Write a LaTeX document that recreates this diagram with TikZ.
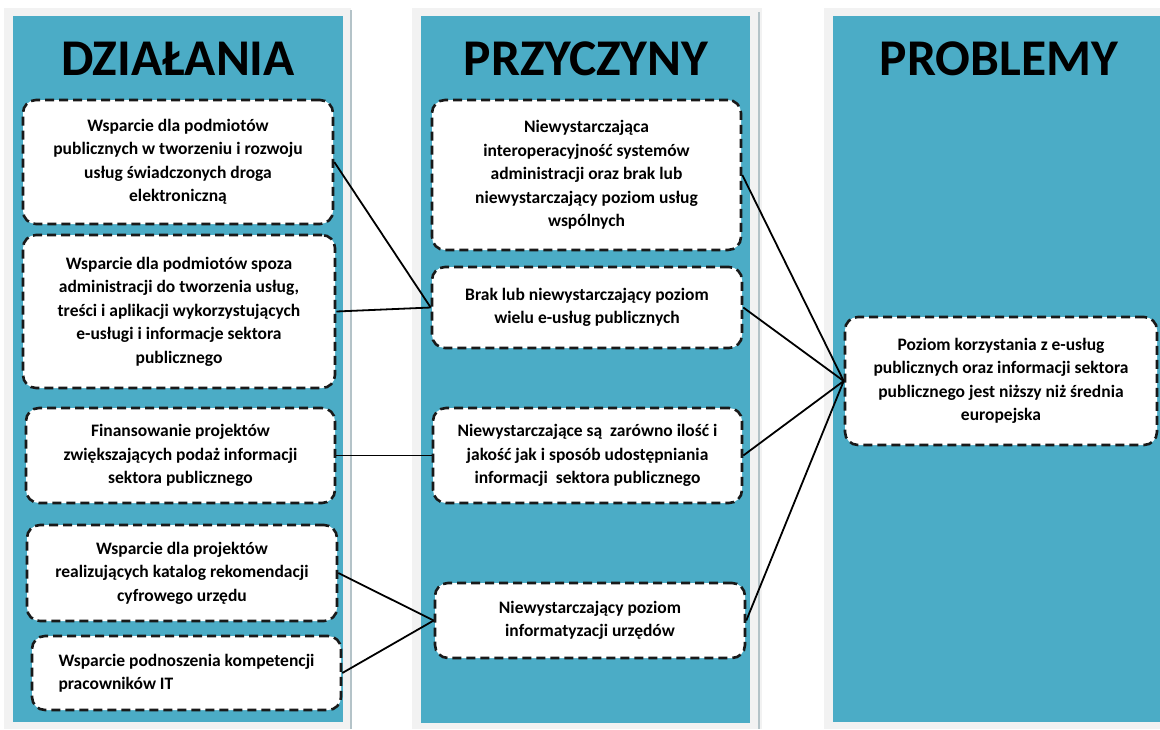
\documentclass[tikz,border=0pt]{standalone}
\usepackage{fontspec}
\setmainfont{Carlito}
\definecolor{colteal}{HTML}{4BACC6}
\definecolor{colgray}{HTML}{F2F2F2}
\definecolor{colshadow}{HTML}{B4C3C8}
\tikzset{
  box/.style={draw=black!90, fill=white, line width=2.6pt, dash pattern=on 9pt off 5pt,
    rounded corners=13pt, font=\bfseries\fontsize{17.5}{23.5}\selectfont, align=center, inner sep=0pt},
  link/.style={draw=black, line width=1.8pt},
  head/.style={font=\bfseries\fontsize{51.5}{60}\selectfont, anchor=base, inner sep=0pt}
}
\begin{document}
\begin{tikzpicture}[x=1pt,y=-1pt]
\useasboundingbox (0,0) rectangle (1160,729);
% columns
\fill[colgray] (4,8) rectangle (351,729);
\fill[colteal] (13,16) rectangle (343,722);
\draw[colshadow, line width=1.5pt] (351,10) -- (351,729);
\fill[colgray] (412,8) rectangle (762,729);
\fill[colteal] (421,16) rectangle (750,723);
\draw[colshadow, line width=2pt] (759,12) -- (759,729);
\fill[colgray] (824,8) rectangle (1160,729);
\fill[colteal] (833,16) rectangle (1160,722);
% headers
\node[head] (h1) at (178,75) {DZIAŁANIA};
\node[head] (h2) at (586,75) {PRZYCZYNY};
\node[head] (h3) at (999,75) {PROBLEMY};
% left boxes
\node[box, minimum width=310pt, minimum height=124pt] (b1) at (178,162)
  {Wsparcie dla podmiotów\\publicznych w tworzeniu i rozwoju\\usług świadczonych droga\\elektroniczną};
\node[box, minimum width=312pt, minimum height=153pt] (b2) at (179,311.5)
  {Wsparcie dla podmiotów spoza\\administracji do tworzenia usług,\\treści i aplikacji wykorzystujących\\e-usługi i informacje sektora\\publicznego};
\node[box, minimum width=309pt, minimum height=95pt] (b3) at (180.5,455.5)
  {Finansowanie projektów\\zwiększających podaż informacji\\sektora publicznego};
\node[box, minimum width=310pt, minimum height=96pt] (b4) at (182,573)
  {Wsparcie dla projektów\\realizujących katalog rekomendacji\\cyfrowego urzędu};
\node[box, minimum width=309pt, minimum height=74pt, align=left] (b5) at (186.5,673)
  {Wsparcie podnoszenia kompetencji\\pracowników IT};
% middle boxes
\node[box, minimum width=309pt, minimum height=150pt] (m1) at (586.5,175)
  {Niewystarczająca\\interoperacyjność systemów\\administracji oraz brak lub\\niewystarczający poziom usług\\wspólnych};
\node[box, minimum width=310pt, minimum height=81pt] (m2) at (587,307.5)
  {Brak lub niewystarczający poziom\\wielu e-usług publicznych};
\node[box, minimum width=309pt, minimum height=95pt] (m3) at (587.5,455.5)
  {Niewystarczające są\ \ zarówno ilość i\\jakość jak i sposób udostępniania\\informacji\ \ sektora publicznego};
\node[box, minimum width=310pt, minimum height=75pt] (m4) at (590,620.5)
  {Niewystarczający poziom\\informatyzacji urzędów};
% right box
\node[box, minimum width=312pt, minimum height=128pt] (r) at (1001,381)
  {Poziom korzystania z e-usług\\publicznych oraz informacji sektora\\publicznego jest niższy niż średnia\\europejska};
% connectors
\draw[link] (b1.east) -- (m2.west);
\draw[link] (b2.east) -- (m2.west);
\draw[link] (b3.east) -- (m3.west);
\draw[link] (b4.east) -- (m4.west);
\draw[link] (b5.east) -- (m4.west);
\draw[link] (m1.east) -- (r.west);
\draw[link] (m2.east) -- (r.west);
\draw[link] (m3.east) -- (r.west);
\draw[link] (m4.east) -- (r.west);
\end{tikzpicture}
\end{document}
